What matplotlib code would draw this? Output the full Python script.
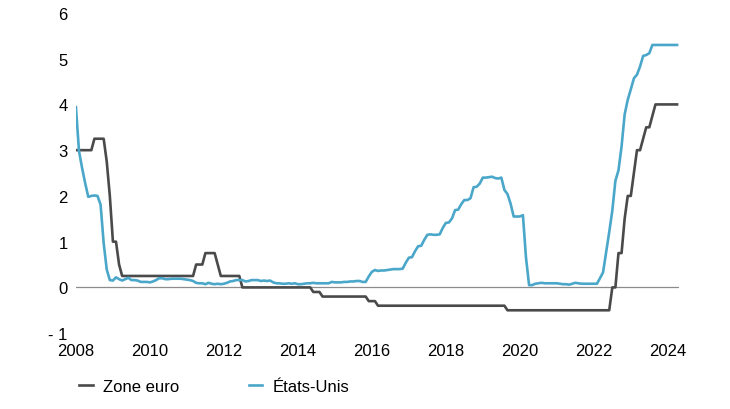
import numpy as np
import matplotlib.pyplot as plt

plt.rcParams['font.family'] = ['Liberation Sans', 'DejaVu Sans']

start_year = 2008
years = [2008, 2010, 2012, 2014, 2016, 2018, 2020, 2022, 2024]
yticks = [-1, 0, 1, 2, 3, 4, 5, 6]
ytick_labels = ['- 1', '0', '1', '2', '3', '4', '5', '6']

# monthly rates, Jan 2008 -> Apr 2024
zone_euro = (
    [3.0, 3.0, 3.0, 3.0, 3.0, 3.0, 3.25, 3.25, 3.25, 3.25, 2.75, 2.0] +       # 2008
    [1.0, 1.0, 0.5, 0.25, 0.25, 0.25, 0.25, 0.25, 0.25, 0.25, 0.25, 0.25] +   # 2009
    [0.25] * 12 +                                                              # 2010
    [0.25, 0.25, 0.25, 0.5, 0.5, 0.5, 0.75, 0.75, 0.75, 0.75, 0.5, 0.25] +    # 2011
    [0.25, 0.25, 0.25, 0.25, 0.25, 0.25, 0.0, 0.0, 0.0, 0.0, 0.0, 0.0] +      # 2012
    [0.0] * 12 +                                                               # 2013
    [0.0, 0.0, 0.0, 0.0, 0.0, -0.1, -0.1, -0.1, -0.2, -0.2, -0.2, -0.2] +     # 2014
    [-0.2] * 11 + [-0.3] +                                                     # 2015
    [-0.3, -0.3, -0.4] + [-0.4] * 9 +                                          # 2016
    [-0.4] * 12 +                                                              # 2017
    [-0.4] * 12 +                                                              # 2018
    [-0.4] * 8 + [-0.5] * 4 +                                                  # 2019
    [-0.5] * 12 +                                                              # 2020
    [-0.5] * 12 +                                                              # 2021
    [-0.5] * 6 + [0.0, 0.0, 0.75, 0.75, 1.5, 2.0] +                           # 2022
    [2.0, 2.5, 3.0, 3.0, 3.25, 3.5, 3.5, 3.75, 4.0, 4.0, 4.0, 4.0] +          # 2023
    [4.0, 4.0, 4.0, 4.0]                                                       # 2024
)

etats_unis = (
    [3.94, 2.98, 2.61, 2.28, 1.98, 2.00, 2.01, 2.00, 1.81, 0.97, 0.39, 0.16] +
    [0.15, 0.22, 0.18, 0.15, 0.18, 0.21, 0.16, 0.16, 0.15, 0.12, 0.12, 0.12] +
    [0.11, 0.13, 0.16, 0.20, 0.20, 0.18, 0.18, 0.19, 0.19, 0.19, 0.19, 0.18] +
    [0.17, 0.16, 0.14, 0.10, 0.09, 0.09, 0.07, 0.10, 0.08, 0.07, 0.08, 0.07] +
    [0.08, 0.10, 0.13, 0.14, 0.16, 0.16, 0.16, 0.13, 0.14, 0.16, 0.16, 0.16] +
    [0.14, 0.15, 0.14, 0.15, 0.11, 0.09, 0.09, 0.08, 0.08, 0.09, 0.08, 0.09] +
    [0.07, 0.07, 0.08, 0.09, 0.09, 0.10, 0.09, 0.09, 0.09, 0.09, 0.09, 0.12] +
    [0.11, 0.11, 0.11, 0.12, 0.12, 0.13, 0.13, 0.14, 0.14, 0.12, 0.12, 0.24] +
    [0.34, 0.38, 0.36, 0.37, 0.37, 0.38, 0.39, 0.40, 0.40, 0.40, 0.41, 0.54] +
    [0.65, 0.66, 0.79, 0.90, 0.91, 1.04, 1.15, 1.16, 1.15, 1.15, 1.16, 1.30] +
    [1.41, 1.42, 1.51, 1.69, 1.70, 1.82, 1.91, 1.91, 1.95, 2.19, 2.20, 2.27] +
    [2.40, 2.40, 2.41, 2.42, 2.39, 2.38, 2.40, 2.13, 2.04, 1.83, 1.55, 1.55] +
    [1.55, 1.58, 0.65, 0.05, 0.05, 0.08, 0.09, 0.10, 0.09, 0.09, 0.09, 0.09] +
    [0.09, 0.08, 0.07, 0.07, 0.06, 0.08, 0.10, 0.09, 0.08, 0.08, 0.08, 0.08] +
    [0.08, 0.08, 0.20, 0.33, 0.77, 1.21, 1.68, 2.33, 2.56, 3.08, 3.78, 4.10] +
    [4.33, 4.57, 4.65, 4.83, 5.06, 5.08, 5.12, 5.30, 5.30, 5.30, 5.30, 5.30] +
    [5.30, 5.30, 5.30, 5.30]
)

dates = start_year + np.arange(len(zone_euro)) / 12

fig = plt.figure(figsize=(7.3, 4.1), dpi=100)
ax = fig.add_axes([0.104, 0.185, 0.826, 0.781])

ax.axhline(0, color='#8c8c8c', lw=0.9, zorder=1)
ax.plot(dates, zone_euro, color='#4a4a4a', lw=1.9, label='Zone euro', zorder=2)
ax.plot(dates, etats_unis, color='#4aa7c9', lw=1.9, label='États-Unis', zorder=3)

ax.set_xlim(2008, 2024.3)
ax.set_ylim(-1, 6)
ax.set_xticks(years)
ax.set_xticklabels([str(y) for y in years])
ax.set_yticks(yticks)
ax.set_yticklabels(ytick_labels)
ax.tick_params(axis='both', length=0, labelsize=12, colors='black')
ax.tick_params(axis='x', pad=7)
ax.tick_params(axis='y', pad=6)
for s in ax.spines.values():
    s.set_visible(False)

fig.legend(loc='lower left', bbox_to_anchor=(0.088, 0.0), ncol=2, frameon=False,
           fontsize=12, handlelength=0.8, handletextpad=0.6, columnspacing=4.2)

fig.savefig('out.png', dpi=100)
